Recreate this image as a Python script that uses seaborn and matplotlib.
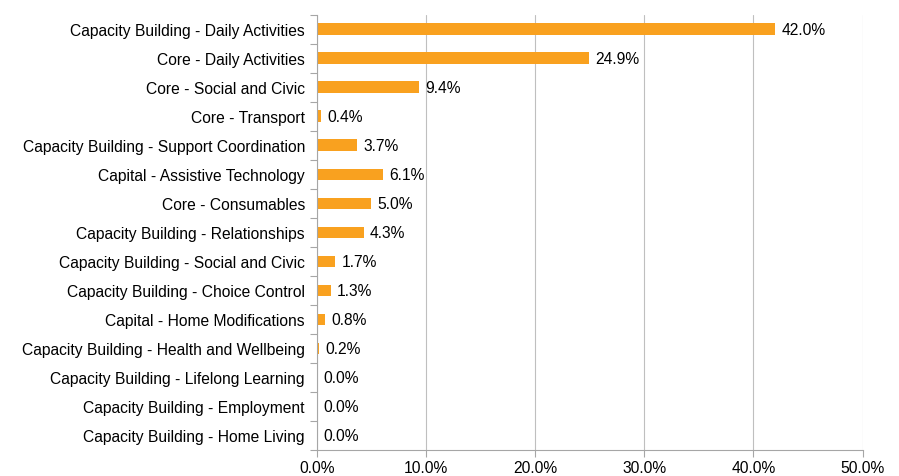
import numpy as np
import pandas as pd
import matplotlib.pyplot as plt
import seaborn as sns
from matplotlib.ticker import FuncFormatter, FixedLocator

categories = [
    "Capacity Building - Daily Activities",
    "Core - Daily Activities",
    "Core - Social and Civic",
    "Core - Transport",
    "Capacity Building - Support Coordination",
    "Capital - Assistive Technology",
    "Core - Consumables",
    "Capacity Building - Relationships",
    "Capacity Building - Social and Civic",
    "Capacity Building - Choice Control",
    "Capital - Home Modifications",
    "Capacity Building - Health and Wellbeing",
    "Capacity Building - Lifelong Learning",
    "Capacity Building - Employment",
    "Capacity Building - Home Living",
]
shares = [42.0, 24.9, 9.4, 0.4, 3.7, 6.1, 5.0, 4.3, 1.7, 1.3, 0.8, 0.2, 0.0, 0.0, 0.0]

df = pd.DataFrame({"category": categories, "share": shares})

sns.set_style("white")
plt.rcParams["font.family"] = ["Liberation Sans", "DejaVu Sans"]
plt.rcParams["text.color"] = "black"

fig = plt.figure(figsize=(8.99, 4.77), dpi=100)
ax = fig.add_axes([0.3523, 0.0545, 0.6073, 0.9126])

sns.barplot(data=df, x="share", y="category", orient="h", color="#F9A11F",
            saturation=1, width=0.40, linewidth=0, edgecolor="none", ax=ax)

ax.set_xlim(0, 50)
ax.set_xticks(np.arange(0, 51, 10))
ax.xaxis.set_major_formatter(FuncFormatter(lambda v, p: f"{v:.1f}%"))
ax.grid(axis="x", color="#BFBFBF", linewidth=0.8)
ax.set_axisbelow(True)

# category ticks sit between the bars, Excel style
ax.set_ylim(len(categories) - 0.5, -0.5)
ax.yaxis.set_minor_locator(FixedLocator(np.arange(-0.5, len(categories), 1)))
ax.tick_params(axis="y", which="both", left=True)
ax.tick_params(axis="y", which="major", length=0, pad=8.5, labelsize=11.25,
               labelcolor="black")
ax.tick_params(axis="y", which="minor", length=5, color="#A6A6A6", width=0.8)
ax.tick_params(axis="x", which="major", bottom=True, length=5, color="#A6A6A6",
               width=0.8, labelsize=11.25, labelcolor="black", pad=2)

for s in ["top", "right"]:
    ax.spines[s].set_visible(False)
for s in ["left", "bottom"]:
    ax.spines[s].set_color("#A6A6A6")
    ax.spines[s].set_linewidth(0.8)

ax.set_xlabel("")
ax.set_ylabel("")

ax.bar_label(ax.containers[0], labels=[f"{v:.1f}%" for v in shares],
             padding=4.5, fontsize=11.25, color="black")

fig.savefig("out.png", dpi=100)
